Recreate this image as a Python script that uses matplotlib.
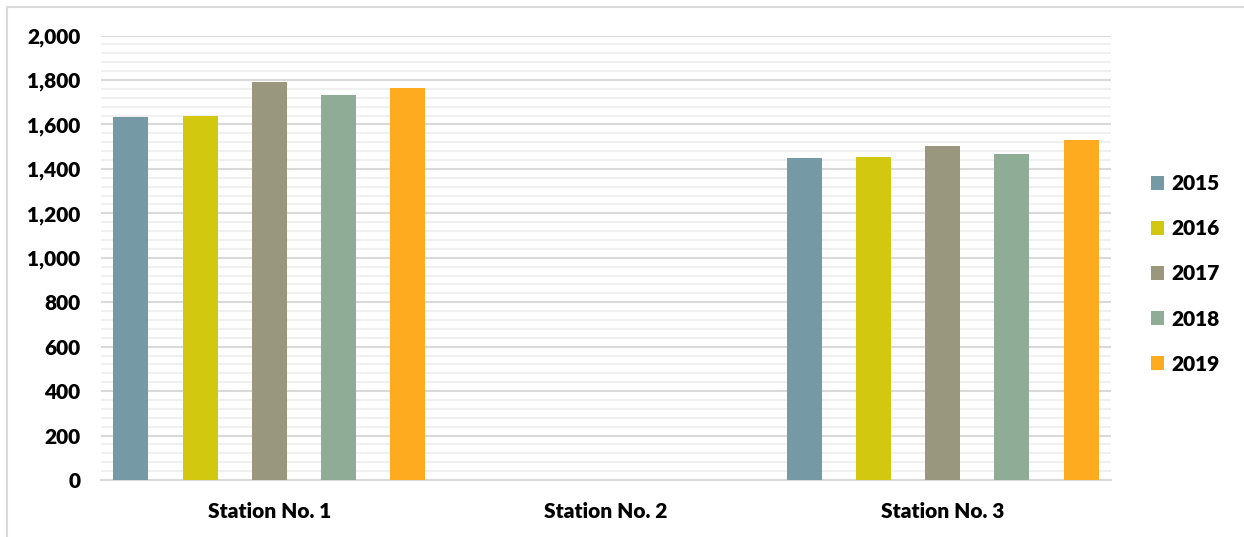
import matplotlib
matplotlib.use("Agg")
import matplotlib.pyplot as plt
from matplotlib.lines import Line2D
from matplotlib.patches import Patch
from matplotlib.ticker import MultipleLocator, FuncFormatter
import numpy as np

# Annual values per station
stations = ["Station No. 1", "Station No. 2", "Station No. 3"]
years = ["2015", "2016", "2017", "2018", "2019"]
v2015 = [1633, 0, 1447]
v2016 = [1638, 0, 1453]
v2017 = [1792, 0, 1501]
v2018 = [1734, 0, 1467]
v2019 = [1764, 0, 1530]
series = [v2015, v2016, v2017, v2018, v2019]
colors = ["#7599A5", "#D2C80F", "#99977E", "#8FAC96", "#FFAB1F"]

FONT = ["Lato", "DejaVu Sans"]
WEIGHT = 800
SIZE = 15
plt.rcParams["font.family"] = FONT

W, H = 1244, 537
fig = plt.figure(figsize=(W / 100, H / 100), dpi=100)
fig.patch.set_facecolor("white")

# frame lines along the top and left edges
fig.add_artist(Line2D([7 / W, 1], [1 - 7 / H, 1 - 7 / H], transform=fig.transFigure,
                      color="#d9d9d9", lw=1.5))
fig.add_artist(Line2D([7 / W, 7 / W], [0, 1 - 7 / H], transform=fig.transFigure,
                      color="#d9d9d9", lw=1.5))

x0, x1 = 101, 1111
y_top, y_zero = 35.5, 480
ax = fig.add_axes([x0 / W, 1 - y_zero / H, (x1 - x0) / W, (y_zero - y_top) / H])

x = np.arange(len(stations))
step = 0.2058
width = 0.104
for j, (vals, c) in enumerate(zip(series, colors)):
    ax.bar(x + (j - 2) * step, vals, width=width, color=c, zorder=3, label=years[j])

ax.set_xlim(-0.5, len(stations) - 0.5)
ax.set_ylim(0, 2000)
ax.yaxis.set_major_locator(MultipleLocator(200))
ax.yaxis.set_minor_locator(MultipleLocator(40))
ax.yaxis.set_major_formatter(FuncFormatter(lambda v, p: f"{int(v):,}"))
ax.grid(axis="y", which="major", color="#d9d9d9", lw=1.5, zorder=1)
ax.grid(axis="y", which="minor", color="#f0f0f0", lw=1.5, zorder=0)
ax.set_axisbelow(True)

for s in ["top", "right", "left"]:
    ax.spines[s].set_visible(False)
ax.spines["bottom"].set_color("#d9d9d9")
ax.spines["bottom"].set_linewidth(1.5)

ax.set_xticks(x)
ax.set_xticklabels(stations)
ax.tick_params(axis="x", length=0, pad=15.5, labelsize=SIZE)
ax.tick_params(axis="y", which="both", length=0, pad=15, labelsize=SIZE)
for lab in ax.get_xticklabels() + ax.get_yticklabels():
    lab.set_fontweight(WEIGHT)

handles = [Patch(facecolor=c, edgecolor="none") for c in colors]
leg = fig.legend(handles, years, loc="center left",
                 bbox_to_anchor=(1151 / W, 1 - 274 / H), frameon=False,
                 prop={"family": FONT, "weight": WEIGHT, "size": SIZE},
                 handlelength=0.62, handleheight=0.62, handletextpad=0.35,
                 labelspacing=1.25, borderpad=0, borderaxespad=0)

fig.savefig("out.png", dpi=100, facecolor="white")
